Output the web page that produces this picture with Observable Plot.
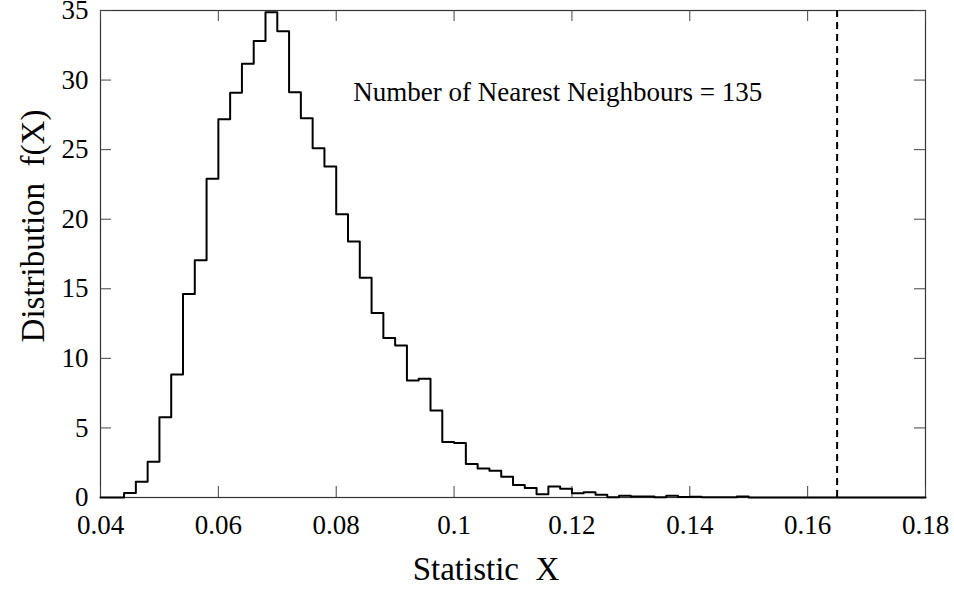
<!DOCTYPE html>
<html><head><meta charset="utf-8">
<script src="https://cdn.jsdelivr.net/npm/d3@7"></script>
<script src="https://cdn.jsdelivr.net/npm/@observablehq/plot@0.6"></script>
<style>body{margin:0;background:#fff} #chart svg{display:block}</style>
</head><body><div id="chart"></div>
<script>
const binStarts = [0.040,0.042,0.044,0.046,0.048,0.050,0.052,0.054,0.056,0.058,
  0.060,0.062,0.064,0.066,0.068,0.070,0.072,0.074,0.076,0.078,
  0.080,0.082,0.084,0.086,0.088,0.090,0.092,0.094,0.096,0.098,
  0.100,0.102,0.104,0.106,0.108,0.110,0.112,0.114,0.116,0.118,
  0.120,0.122,0.124,0.126,0.128,0.130,0.132,0.134,0.136,0.138,
  0.140,0.142,0.144,0.146,0.148,0.150,0.152,0.154,0.156,0.158,
  0.160,0.162,0.164,0.166,0.168,0.170,0.172,0.174,0.176,0.178];
const binValues = [0,0,0.32,1.13,2.57,5.76,8.84,14.63,17.05,22.9,
  27.19,29.08,31.17,32.8,34.87,33.5,29.13,27.26,25.1,23.78,
  20.35,18.4,15.8,13.26,11.46,10.93,8.41,8.53,6.25,3.99,
  3.92,2.4,2.09,1.92,1.49,0.89,0.68,0.24,0.79,0.62,
  0.3,0.38,0.19,0.02,0.12,0.07,0.07,0.02,0.12,0.04,
  0.06,0.02,0.02,0.01,0.08,0,0,0,0,0,
  0,0,0,0,0,0,0,0,0,0];
const binEnd = 0.18;
const xTicks = [0.04,0.06,0.08,0.10,0.12,0.14,0.16,0.18];
const xTickLabels = ["0.04","0.06","0.08","0.1","0.12","0.14","0.16","0.18"];
const yTicks = [0,5,10,15,20,25,30,35];
const yTickLabels = ["0","5","10","15","20","25","30","35"];
const thresholdX = [0.165];
const annotation = [{x: 0.0829, y: 29.1, text: "Number of Nearest Neighbours = 135"}];
const xLabel = ["Statistic\u00a0\u00a0X"];
const yLabel = ["Distribution\u00a0\u00a0f(X)"];

const steps = binStarts.map((x, i) => ({x, y: binValues[i]}));
steps.push({x: binEnd, y: binValues[binValues.length - 1]});

const W = 954, H = 589, ML = 100, MR = 29, MT = 10, MB = 92;
const TICK = 11;
const frameW = W - ML - MR, frameH = H - MT - MB;

const chart = Plot.plot({
  width: W, height: H,
  marginLeft: ML, marginRight: MR, marginTop: MT, marginBottom: MB,
  style: {fontFamily: "'Liberation Serif', 'Times New Roman', serif", fontSize: "27px", color: "#000", background: "#fff"},
  x: {domain: [0.04, 0.18]},
  y: {domain: [0, 35]},
  marks: [
    Plot.frame({stroke: "#333", strokeWidth: 1.2}),
    // inward ticks on all four sides
    Plot.tickX(xTicks, {x: d => d, stroke: "#444", insetTop: frameH - TICK}),
    Plot.tickX(xTicks, {x: d => d, stroke: "#444", insetBottom: frameH - TICK}),
    Plot.tickY(yTicks, {y: d => d, stroke: "#444", insetRight: frameW - TICK}),
    Plot.tickY(yTicks, {y: d => d, stroke: "#444", insetLeft: frameW - TICK}),
    Plot.axisX(xTicks, {anchor: "bottom", tickSize: 0, tickPadding: 17,
      tickFormat: d => xTickLabels[xTicks.indexOf(d)], label: null, fontSize: 27}),
    Plot.axisY(yTicks, {anchor: "left", tickSize: 0, tickPadding: 12,
      tickFormat: d => yTickLabels[yTicks.indexOf(d)], label: null, fontSize: 27}),
    Plot.ruleX(thresholdX, {stroke: "#000", strokeWidth: 2, strokeDasharray: "7,5"}),
    Plot.line(steps, {x: "x", y: "y", curve: "step-after", stroke: "#000", strokeWidth: 2}),
    Plot.text(annotation, {x: "x", y: "y", text: "text", textAnchor: "start", fontSize: 27, fill: "#000"}),
    Plot.text(xLabel, {frameAnchor: "bottom", textAnchor: "middle", lineAnchor: "middle", dx: -27, dy: 72, fontSize: 33, fill: "#000"}),
    Plot.text(yLabel, {frameAnchor: "left", textAnchor: "middle", lineAnchor: "middle", rotate: -90, dx: -67, dy: -28, fontSize: 33, fill: "#000"})
  ]
});
document.getElementById("chart").appendChild(chart);
</script>
</body></html>
